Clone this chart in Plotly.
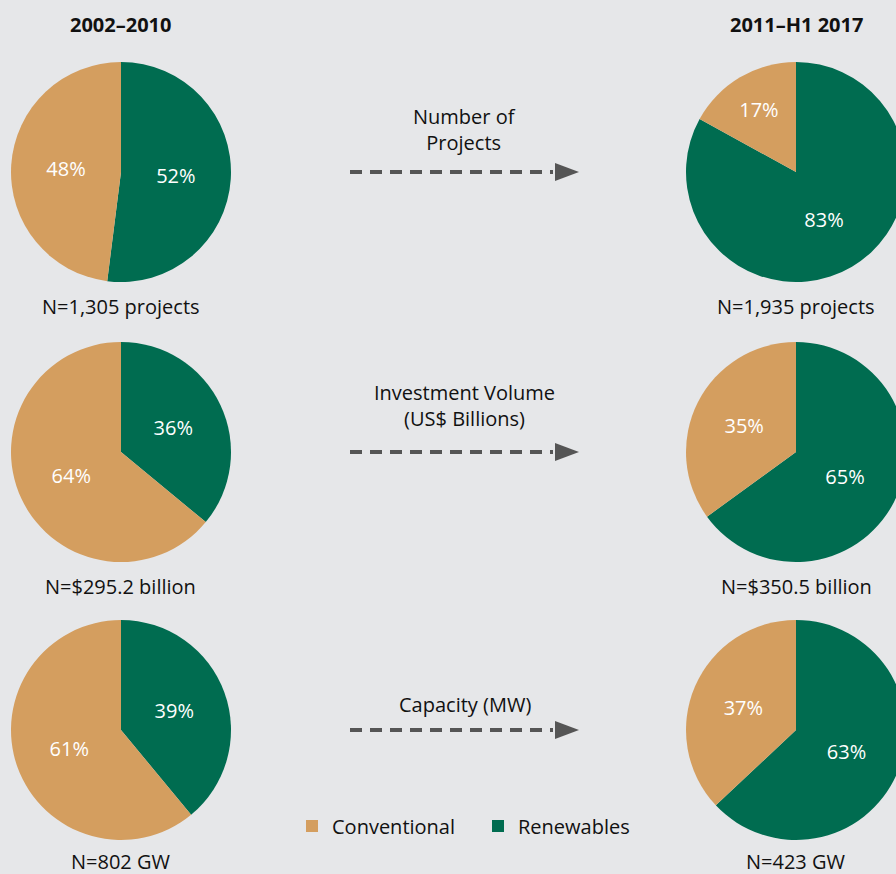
import plotly.graph_objects as go

# ---------------- data ----------------
periods = ["2002–2010", "2011–H1 2017"]
segments = ["Renewables", "Conventional"]
metrics = ["Number of<br>Projects", "Investment Volume<br>(US$ Billions)", "Capacity (MW)"]
renewables_early = [52, 36, 39]
conventional_early = [48, 64, 61]
renewables_late = [83, 65, 63]
conventional_late = [17, 35, 37]
totals_early = ["N=1,305 projects", "N=$295.2 billion", "N=802 GW"]
totals_late = ["N=1,935 projects", "N=$350.5 billion", "N=423 GW"]

# ---------------- style ----------------
# The reference is cropped on the right: the right-hand pies run ~10px past
# the 896px window edge, so the canvas is a bit wider and the overflow hidden.
W, H = 906, 874
BG = "#E6E7E9"
TAN = "#D49E5F"
GREEN = "#006C50"
ARROW = "#555555"
FONT = "Open Sans"
TXT = "#111111"
FS = 20
colors = [GREEN, TAN]

row_cy = [172, 452, 730]          # pixel centers of pie rows
left_cx, right_cx = 121, 796
R = 110
label_cx_left, label_cx_right = 121, 796
n_label_y = [306, 586, 861]
metric_label_y = [130, 405, 704]


def px_x(x):
    return x / W


def px_y(y):
    return 1 - y / H


fig = go.Figure()
for i in range(3):
    for cx, ren, conv in ((left_cx, renewables_early, conventional_early),
                          (right_cx, renewables_late, conventional_late)):
        fig.add_trace(go.Pie(
            labels=segments,
            values=[ren[i], conv[i]],
            marker=dict(colors=colors, line=dict(width=0)),
            sort=False,
            direction="clockwise",
            rotation=0,
            texttemplate="%{value}%",
            textposition="inside",
            insidetextorientation="horizontal",
            textfont=dict(family=FONT, size=FS, color="white"),
            hoverinfo="label+value",
            showlegend=(i == 0 and cx == left_cx),
            domain=dict(x=[px_x(cx - R), min(1, px_x(cx + R))],
                        y=[px_y(row_cy[i] + R), px_y(row_cy[i] - R)]),
        ))

annotations = []
# period titles
for cx, t in ((label_cx_left, periods[0]), (label_cx_right, periods[1])):
    annotations.append(dict(x=px_x(cx), y=px_y(25), xref="paper", yref="paper",
                            text=f"<b>{t}</b>", showarrow=False,
                            font=dict(family=FONT, size=FS, color=TXT),
                            xanchor="center", yanchor="middle"))
# N labels and metric labels
for i in range(3):
    for cx, t in ((label_cx_left, totals_early[i]), (label_cx_right, totals_late[i])):
        annotations.append(dict(x=px_x(cx), y=px_y(n_label_y[i]), xref="paper", yref="paper",
                                text=t, showarrow=False,
                                font=dict(family=FONT, size=FS, color=TXT),
                                xanchor="center", yanchor="middle"))
    annotations.append(dict(x=px_x(465), y=px_y(metric_label_y[i]), xref="paper", yref="paper",
                            text=metrics[i], showarrow=False,
                            font=dict(family=FONT, size=FS, color=TXT),
                            xanchor="center", yanchor="middle"))

shapes = []
for i in range(3):
    y = px_y(row_cy[i])
    shapes.append(dict(type="line", xref="paper", yref="paper",
                       x0=px_x(350), x1=px_x(553), y0=y, y1=y,
                       line=dict(color=ARROW, width=4, dash="12px,8px")))
    shapes.append(dict(type="path", xref="paper", yref="paper",
                       xsizemode="pixel", ysizemode="pixel",
                       xanchor=px_x(555), yanchor=y,
                       path="M0,9 L24,0 L0,-9 Z",
                       fillcolor=ARROW, line=dict(width=0)))

fig.update_layout(
    width=W, height=H,
    margin=dict(l=0, r=0, t=0, b=0),
    paper_bgcolor=BG, plot_bgcolor=BG,
    font=dict(family=FONT, color=TXT),
    annotations=annotations,
    shapes=shapes,
    legend=dict(orientation="h", x=px_x(292), y=px_y(826),
                xanchor="left", yanchor="middle",
                traceorder="reversed",
                entrywidth=141, entrywidthmode="pixels",
                font=dict(family=FONT, size=FS, color=TXT),
                bgcolor="rgba(0,0,0,0)", itemclick=False, itemdoubleclick=False),
)

fig.write_html("out.html",
               config={"displayModeBar": False},
               post_script="document.documentElement.style.overflow='hidden';"
                           "document.body.style.margin='0';document.body.style.overflow='hidden';")
